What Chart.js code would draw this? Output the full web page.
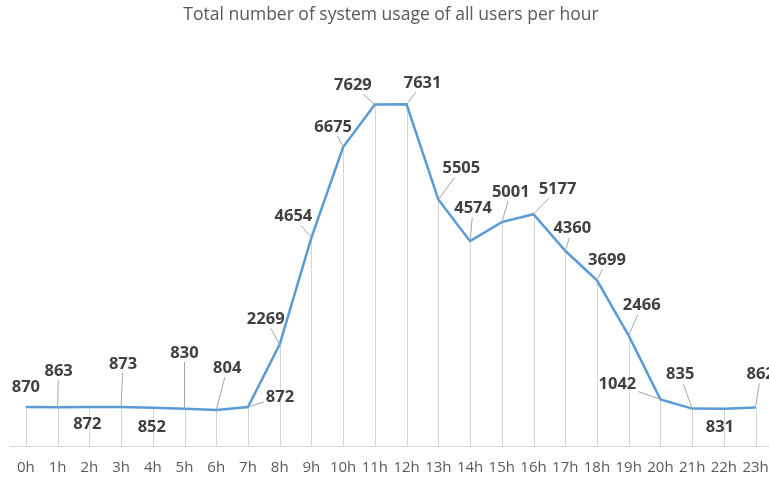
<!DOCTYPE html>
<html>
<head>
<meta charset="utf-8">
<script src="https://cdn.jsdelivr.net/npm/chart.js@4/dist/chart.umd.min.js"></script>
<style>
  html, body { margin: 0; padding: 0; background: #fff; overflow: hidden; }
  .graphic { width: 782px; height: 494px; }
</style>
</head>
<body>
<div class="graphic"><canvas id="usage"></canvas></div>
<script>
const hours = ["0h", "1h", "2h", "3h", "4h", "5h", "6h", "7h", "8h", "9h", "10h", "11h",
  "12h", "13h", "14h", "15h", "16h", "17h", "18h", "19h", "20h", "21h", "22h", "23h"];

const usage = [870, 863, 872, 873, 852, 830, 804, 872, 2269, 4654, 6675, 7629,
  7631, 5505, 4574, 5001, 5177, 4360, 3699, 2466, 1042, 835, 831, 862];

// where each label sits, relative to its point (px)
const labelOffsets = [
  [0, -20], [1, -36], [-2, 17], [2, -43], [-1, 19], [0, -56], [11, -42], [32, -10],
  [-14, -25], [-18, -21], [-10, -20], [-22, -19], [16, -21], [23, -31], [3, -33], [9, -30],
  [24, -25], [7, -22], [10, -20], [13, -30], [-43, -15], [-12, -34], [-4, 19], [5, -33]
];
const noLeader = [0, 2, 4, 22];

const dropLines = {
  id: "dropLines",
  beforeDatasetsDraw(chart) {
    const { ctx, chartArea } = chart;
    ctx.save();
    ctx.strokeStyle = "#d6d6d6";
    ctx.lineWidth = 1;
    chart.getDatasetMeta(0).data.forEach((pt) => {
      const x = Math.round(pt.x) + 0.5;
      ctx.beginPath();
      ctx.moveTo(x, pt.y);
      ctx.lineTo(x, chartArea.bottom);
      ctx.stroke();
    });
    ctx.restore();
  },
};

const pointLabels = {
  id: "pointLabels",
  afterDatasetsDraw(chart) {
    const { ctx } = chart;
    ctx.save();
    ctx.font = "bold 16.5px 'Open Sans'";
    ctx.textAlign = "center";
    ctx.textBaseline = "middle";
    chart.getDatasetMeta(0).data.forEach((pt, i) => {
      const text = String(usage[i]);
      const cx = pt.x + labelOffsets[i][0];
      const cy = pt.y + labelOffsets[i][1];
      const hw = ctx.measureText(text).width / 2 + 2;
      const hh = 9;
      if (!noLeader.includes(i)) {
        const dx = cx - pt.x;
        const dy = cy - pt.y;
        // stop the leader where it meets the label box
        const sx = dx !== 0 ? hw / Math.abs(dx) : Infinity;
        const sy = dy !== 0 ? hh / Math.abs(dy) : Infinity;
        const t = Math.max(1 - Math.min(sx, sy), 0);
        const ex = pt.x + dx * t;
        const ey = pt.y + dy * t;
        if (Math.hypot(ex - pt.x, ey - pt.y) > 4) {
          ctx.strokeStyle = "#a6a6a6";
          ctx.lineWidth = 1;
          ctx.beginPath();
          ctx.moveTo(pt.x, pt.y);
          ctx.lineTo(ex, ey);
          ctx.stroke();
        }
      }
      ctx.fillStyle = "#404040";
      ctx.fillText(text, cx, cy);
    });
    ctx.restore();
  },
};

new Chart(document.getElementById("usage").getContext("2d"), {
  type: "line",
  data: {
    labels: hours,
    datasets: [
      {
        label: "Usage",
        data: usage,
        borderColor: "#5b9bd5",
        borderWidth: 2.5,
        pointRadius: 0,
        tension: 0,
        fill: false,
        clip: false,
      },
    ],
  },
  options: {
    responsive: true,
    maintainAspectRatio: false,
    animation: false,
    layout: { padding: { left: 10, right: 10, top: 0, bottom: 4 } },
    plugins: {
      legend: { display: false },
      tooltip: { enabled: false },
      title: {
        display: true,
        text: "Total number of system usage of all users per hour",
        color: "#595959",
        font: { family: "'Open Sans'", size: 17.5, weight: "normal" },
        padding: { top: 5, bottom: 17 },
      },
    },
    scales: {
      x: {
        offset: true,
        grid: { display: false, drawTicks: false },
        border: { display: true, color: "#d9d9d9", width: 1 },
        ticks: {
          color: "#595959",
          font: { family: "'Open Sans'", size: 15 },
          padding: 13,
          maxRotation: 0,
          autoSkip: false,
        },
      },
      y: {
        display: false,
        min: 0,
        max: 9000,
      },
    },
  },
  plugins: [dropLines, pointLabels],
});
</script>
</body>
</html>
